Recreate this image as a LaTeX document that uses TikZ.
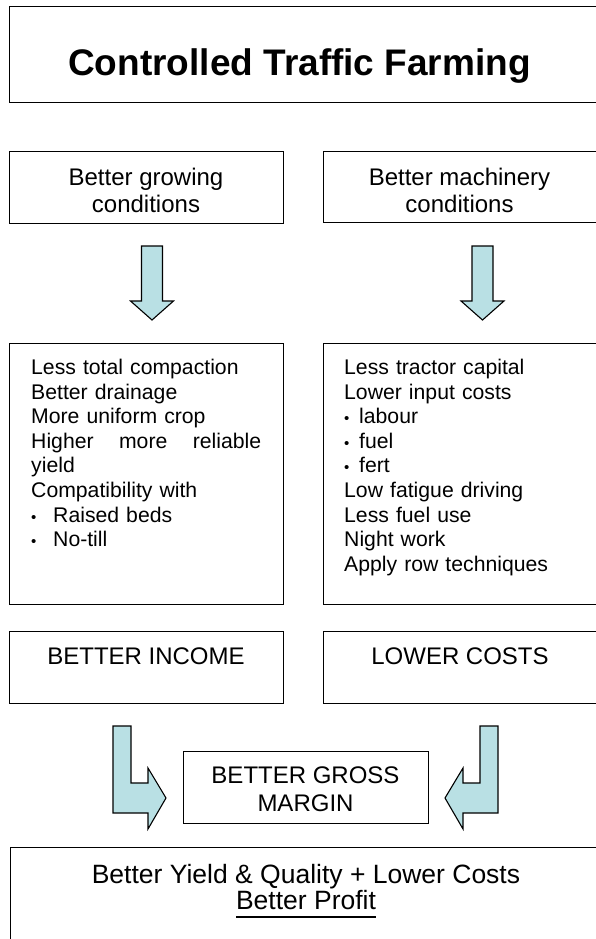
\documentclass[tikz,border=0pt]{standalone}
\usepackage{fontspec}
\setmainfont{Liberation Sans}
\definecolor{arrowfill}{RGB}{185,224,228}
\tikzset{
  box/.style={draw, line width=1.4pt, inner sep=0pt, anchor=north west},
  blockarrow/.style={draw, line width=1.1pt, fill=arrowfill, line join=miter},
  headtext/.style={anchor=north, align=center, inner sep=0pt, font=\fontsize{24}{27}\selectfont},
  listtext/.style={anchor=north west, align=left, inner sep=0pt, text width=230pt, font=\fontsize{21.2}{24.6}\selectfont}
}
\newcommand{\thickul}[1]{\setbox0=\hbox{#1}\rlap{\rule[-8.5pt]{\wd0}{1.6pt}}\box0}
\newcommand{\listdot}[1]{\makebox[#1][l]{\fontsize{15}{15}\selectfont\textbullet}}
\begin{document}
\begin{tikzpicture}[x=1pt,y=-1pt]
\useasboundingbox (0,0) rectangle (596,939);
\clip (0,0) rectangle (596,939);
\node[box, minimum width=640pt, minimum height=96pt] (title) at (9,6) {};
\node[anchor=base west, inner sep=0pt, font=\fontsize{37}{44}\selectfont\bfseries] (titletext) at (68,76) {Controlled Traffic Farming};
\node[box, minimum width=274pt, minimum height=72pt] (grow) at (9,151) {};
\node[box, minimum width=273pt, minimum height=71pt] (mach) at (323,151) {};
\node[headtext] (growtext) at (146,168) {Better growing\\conditions};
\node[headtext] (machtext) at (459.5,168) {Better machinery\\conditions};
\draw[blockarrow] (141.5,246) -- (162.5,246) -- (162.5,301) -- (173.5,301) -- (152,320) -- (130.5,301) -- (141.5,301) -- cycle;
\draw[blockarrow] (472,246) -- (493,246) -- (493,301) -- (504,301) -- (482.5,320) -- (461,301) -- (472,301) -- cycle;
\node[box, minimum width=274pt, minimum height=261pt] (growlist) at (9,343) {};
\node[box, minimum width=273pt, minimum height=261pt] (machlist) at (323,343) {};
\node[listtext] (growlisttext) at (31,359) {Less total compaction\\
Better drainage\\
More uniform crop\\
\makebox[230pt][l]{Higher\hfill more\hfill reliable}\\
yield\\
Compatibility with\\
\listdot{22pt}Raised beds\\
\listdot{22pt}No-till};
\node[listtext] (machlisttext) at (344,359) {Less tractor capital\\
Lower input costs\\
\listdot{15pt}labour\\
\listdot{15pt}fuel\\
\listdot{15pt}fert\\
Low fatigue driving\\
Less fuel use\\
Night work\\
Apply row techniques};
\node[box, minimum width=274pt, minimum height=72pt] (income) at (9,631) {};
\node[box, minimum width=273pt, minimum height=72pt] (costs) at (323,631) {};
\node[anchor=base, inner sep=0pt, font=\fontsize{24}{27}\selectfont] (incometext) at (146,664) {BETTER INCOME};
\node[anchor=base, inner sep=0pt, font=\fontsize{24}{27}\selectfont] (coststext) at (460,664) {LOWER COSTS};
\draw[blockarrow] (113,726) -- (131,726) -- (131,783) -- (148,783) -- (148,768) -- (166,798) -- (148,829) -- (148,813) -- (113,813) -- cycle;
\draw[blockarrow] (498,726) -- (480,726) -- (480,783) -- (463,783) -- (463,768) -- (445,798) -- (463,829) -- (463,813) -- (498,813) -- cycle;
\node[box, minimum width=245pt, minimum height=72pt] (gross) at (183,751) {};
\node[headtext, font=\fontsize{24}{28}\selectfont] (grosstext) at (305.5,767) {BETTER GROSS\\MARGIN};
\node[box, minimum width=640pt, minimum height=140pt] (profit) at (10,847) {};
\node[anchor=north, align=center, inner sep=0pt, font=\fontsize{26.5}{26}\selectfont] (profittext) at (306,864) {Better Yield \& Quality + Lower Costs\\\thickul{Better Profit}};
\end{tikzpicture}
\end{document}
